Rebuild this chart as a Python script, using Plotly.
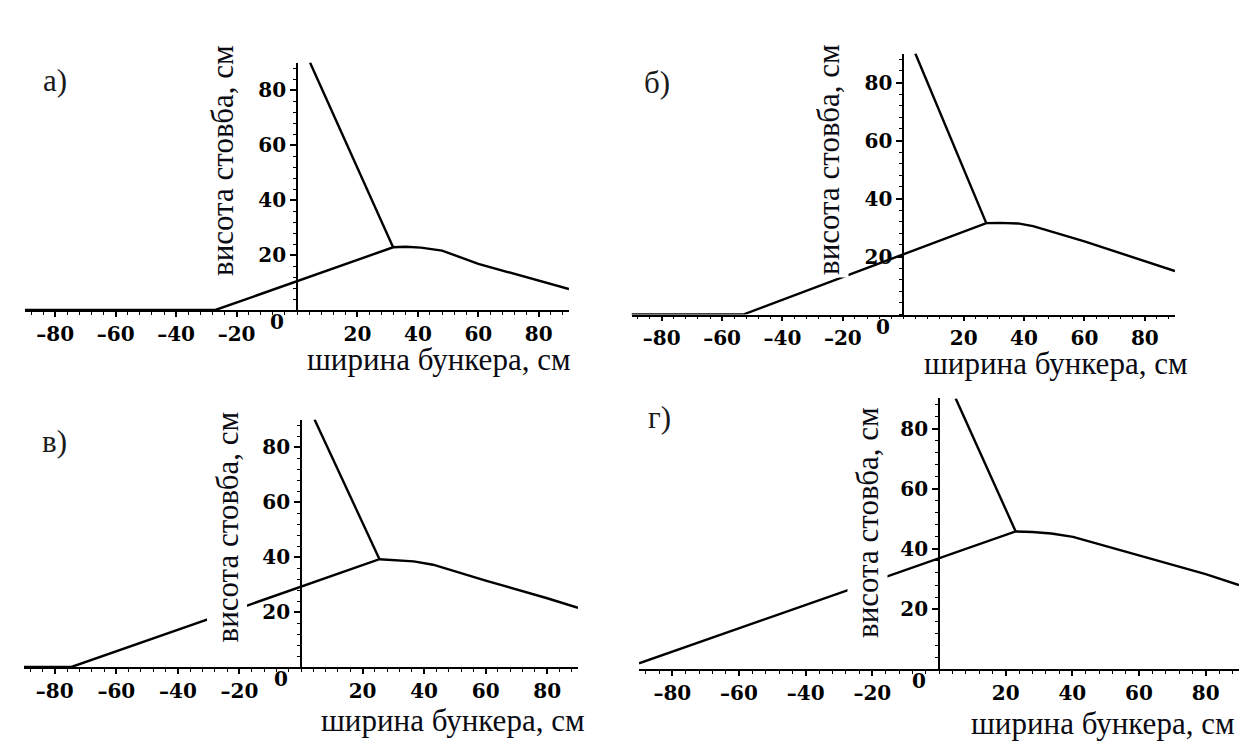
import plotly.graph_objects as go

# ---------------- data ----------------
x_tick_vals = [-80, -60, -40, -20, 20, 40, 60, 80]
x_tick_text = ["–80", "–60", "–40", "–20", "20", "40", "60", "80"]
y_tick_vals = [20, 40, 60, 80]
y_tick_text = ["20", "40", "60", "80"]

panel_labels = ["а)", "б)", "в)", "г)"]
x_title = "ширина бункера, см"
y_title = "висота стовба, см"

# panel а
a_profile_x = [-90, -27, 31.8, 36, 41, 48, 60, 80, 90]
a_profile_y = [0, 0, 22.8, 23.0, 22.7, 21.6, 16.8, 10.5, 7.6]
a_steep_x = [4.3, 31.8]
a_steep_y = [90, 22.8]

# panel б
b_profile_x = [-90, -53, 27.5, 32, 38, 43, 60, 75, 90]
b_profile_y = [0, 0, 31.5, 31.6, 31.4, 30.5, 25.2, 20.0, 15.0]
b_steep_x = [4.0, 27.5]
b_steep_y = [90, 31.5]

# panel в
c_profile_x = [-90, -74.6, 25.5, 30, 36.6, 42.9, 60, 80, 90]
c_profile_y = [0, 0, 39.2, 38.8, 38.4, 37.2, 31.4, 25.0, 21.5]
c_steep_x = [4.4, 25.5]
c_steep_y = [90, 39.2]

# panel г
d_profile_x = [-90, 23, 28, 33.7, 40.2, 60, 80, 90]
d_profile_y = [2.0, 45.8, 45.6, 45.1, 44.0, 37.8, 31.6, 28.0]
d_steep_x = [5.0, 23.0]
d_steep_y = [90, 45.8]

profiles = [(a_profile_x, a_profile_y), (b_profile_x, b_profile_y),
            (c_profile_x, c_profile_y), (d_profile_x, d_profile_y)]
steeps = [(a_steep_x, a_steep_y), (b_steep_x, b_steep_y),
          (c_steep_x, c_steep_y), (d_steep_x, d_steep_y)]

# ---------------- layout geometry (pixels) ----------------
W, H = 1259, 748
geom = [
    dict(x0=25, x1=569, yb=310, yt=62.5, ytx=223, yty=161, xtr=573, xty=360, lx=55, ly=81),
    dict(x0=631.5, x1=1175, yb=314.5, yt=53.5, ytx=829, yty=160, xtr=1190, xty=363, lx=657, ly=82),
    dict(x0=24, x1=578, yb=667, yt=419.5, ytx=227, yty=527.5, xtr=587, xty=720, lx=54, ly=441),
    dict(x0=639, x1=1239, yb=669.3, yt=398.4, ytx=867, yty=523, xtr=1237, xty=723, lx=660, ly=417),
]

serif = "Liberation Serif"
tickfont = dict(family="DejaVu Serif", size=20, color="black", weight="bold")

fig = go.Figure()
annotations = []
for i, g in enumerate(geom):
    sfx = "" if i == 0 else str(i + 1)
    xa, ya = "x" + sfx, "y" + sfx
    for (xs, ys) in (profiles[i], steeps[i]):
        fig.add_trace(go.Scatter(x=xs, y=ys, mode="lines",
                                 line=dict(color="black", width=2.4),
                                 xaxis=xa, yaxis=ya, showlegend=False,
                                 hoverinfo="skip"))
    fig.layout["xaxis" + sfx] = dict(
        domain=[g["x0"] / W, g["x1"] / W], range=[-90, 90], anchor=ya,
        showline=True, linecolor="black", linewidth=1.6,
        ticks="outside", ticklen=5, tickwidth=1.5, tickcolor="black",
        tickmode="array", tickvals=x_tick_vals, ticktext=x_tick_text,
        tickfont=tickfont,
        minor=dict(ticks="outside", tickmode="linear", tick0=0, dtick=4,
                   ticklen=3, tickwidth=1.2, tickcolor="black"),
        showgrid=False, zeroline=False, fixedrange=True)
    fig.layout["yaxis" + sfx] = dict(
        domain=[1 - g["yb"] / H, 1 - g["yt"] / H], range=[0, 90],
        anchor="free", position=(g["x0"] + g["x1"]) / 2 / W, side="left",
        showline=True, linecolor="black", linewidth=1.6,
        ticks="outside", ticklen=6, tickwidth=1.5, tickcolor="black",
        tickmode="array", tickvals=y_tick_vals, ticktext=y_tick_text,
        tickfont=tickfont,
        minor=dict(ticks="outside", tickmode="linear", tick0=0, dtick=4,
                   ticklen=3, tickwidth=1.2, tickcolor="black"),
        showgrid=False, zeroline=False, fixedrange=True)
    annotations.append(dict(x=0, y=0, xref=xa, yref=ya, text="0",
                            showarrow=False, xshift=-20, yshift=-12,
                            font=tickfont))
    annotations.append(dict(x=g["ytx"] / W, y=1 - g["yty"] / H,
                            xref="paper", yref="paper", text=y_title,
                            textangle=-90, showarrow=False,
                            xanchor="center", yanchor="middle",
                            bgcolor="white", borderpad=2,
                            font=dict(family=serif, size=31, color="#0b0b14")))
    annotations.append(dict(x=g["xtr"] / W, y=1 - g["xty"] / H,
                            xref="paper", yref="paper", text=x_title,
                            showarrow=False, xanchor="right", yanchor="middle",
                            font=dict(family=serif, size=31, color="#0b0b14")))
    annotations.append(dict(x=g["lx"] / W, y=1 - g["ly"] / H,
                            xref="paper", yref="paper", text=panel_labels[i],
                            showarrow=False, xanchor="center", yanchor="middle",
                            font=dict(family=serif, size=31, color="#1a1a1a")))

fig.update_layout(width=W, height=H, margin=dict(l=0, r=0, t=0, b=0),
                  paper_bgcolor="white", plot_bgcolor="white",
                  annotations=annotations, showlegend=False)

fig.write_html("out.html", config=dict(displayModeBar=False))
